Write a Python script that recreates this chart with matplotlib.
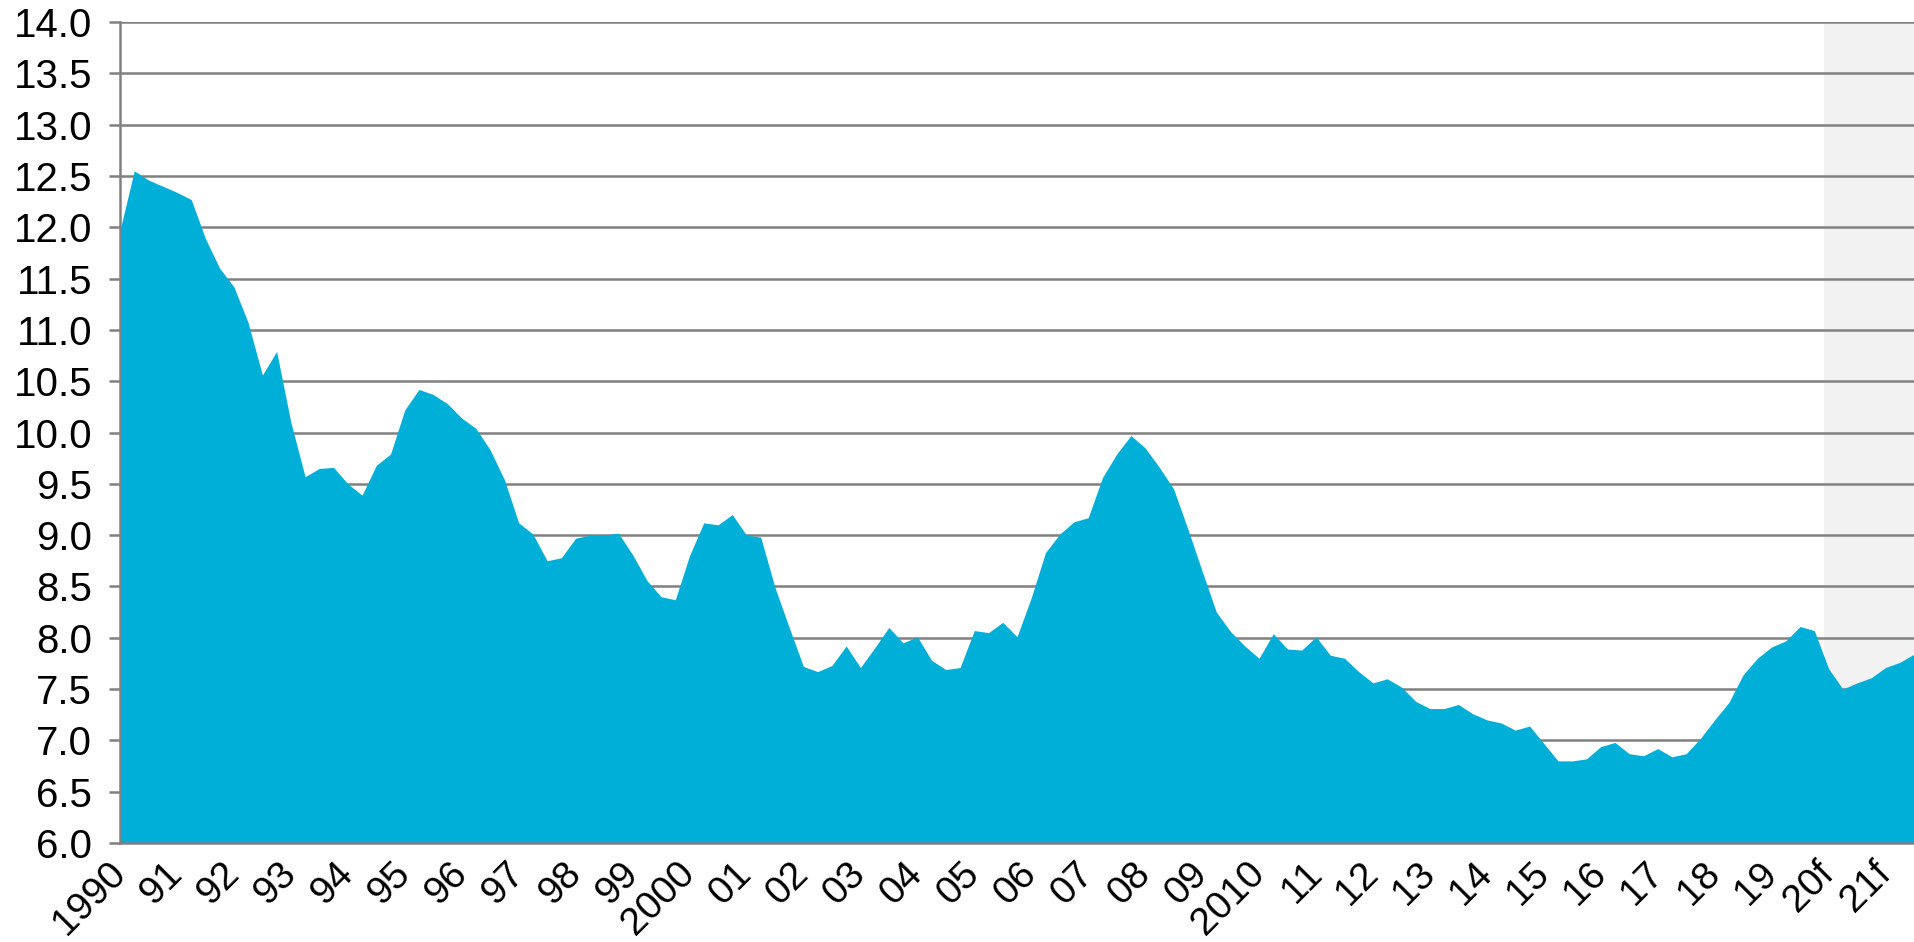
import numpy as np
import matplotlib.pyplot as plt

plt.rcParams['font.family'] = ['Liberation Sans', 'DejaVu Sans']

# quarterly values, 1990Q1 onwards (last 7 quarters are forecast)
values = [11.97, 12.55, 12.46, 12.40, 12.34, 12.27, 11.89, 11.60, 11.42, 11.07,
          10.56, 10.79, 10.10, 9.57, 9.65, 9.66, 9.50, 9.39, 9.68, 9.79,
          10.22, 10.42, 10.37, 10.28, 10.14, 10.04, 9.83, 9.54, 9.12, 9.01,
          8.75, 8.78, 8.97, 9.00, 9.00, 9.02, 8.81, 8.56, 8.40, 8.37,
          8.80, 9.12, 9.10, 9.20, 9.00, 8.98, 8.49, 8.10, 7.72, 7.67,
          7.73, 7.92, 7.71, 7.90, 8.10, 7.95, 8.01, 7.78, 7.69, 7.71,
          8.07, 8.05, 8.15, 8.01, 8.39, 8.83, 9.01, 9.13, 9.17, 9.56,
          9.79, 9.97, 9.85, 9.66, 9.45, 9.06, 8.65, 8.25, 8.06, 7.92,
          7.80, 8.04, 7.89, 7.88, 8.01, 7.83, 7.80, 7.67, 7.56, 7.60,
          7.52, 7.38, 7.31, 7.31, 7.35, 7.26, 7.20, 7.17, 7.10, 7.14,
          6.97, 6.80, 6.80, 6.82, 6.94, 6.98, 6.87, 6.85, 6.92, 6.84,
          6.87, 7.02, 7.20, 7.37, 7.64, 7.80, 7.91, 7.97, 8.11, 8.07,
          7.70, 7.50, 7.56, 7.61, 7.71, 7.76, 7.84]

year_labels = ['1990', '91', '92', '93', '94', '95', '96', '97', '98', '99',
               '2000', '01', '02', '03', '04', '05', '06', '07', '08', '09',
               '2010', '11', '12', '13', '14', '15', '16', '17', '18', '19',
               '20f', '21f']

forecast_start = 119.7

x = np.arange(len(values))

fig = plt.figure(figsize=(19.14, 9.42), dpi=100)
ax = fig.add_axes([120 / 1914, 1 - 843 / 942, 1 - 120 / 1914, (843 - 22) / 942])

ax.axvspan(forecast_start, x[-1], ymax=0.998, color='#f2f2f2', zorder=0, lw=0)
ax.fill_between(x, 6, values, color='#00afd7', lw=0, zorder=2)

ax.set_xlim(0, x[-1])
ax.set_ylim(6, 14)
ax.set_yticks(np.arange(6, 14.01, 0.5))
ax.set_yticklabels([f'{v:.1f}' for v in np.arange(6, 14.01, 0.5)], fontsize=29)
ax.set_xticks(np.arange(0, len(values), 4))
ax.set_xticklabels(year_labels, fontsize=28, rotation=45, ha='right',
                   va='center', rotation_mode='anchor')

ax.set_axisbelow(True)
ax.grid(axis='y', color='#808080', lw=1.8)
ax.tick_params(axis='y', length=8, width=1.8, color='#808080', pad=12)
ax.tick_params(axis='x', length=0, pad=18)

for s in ['top', 'right']:
    ax.spines[s].set_visible(False)
for s in ['left', 'bottom']:
    ax.spines[s].set_color('#808080')
    ax.spines[s].set_linewidth(1.8)

fig.savefig('out.png', dpi=100)
